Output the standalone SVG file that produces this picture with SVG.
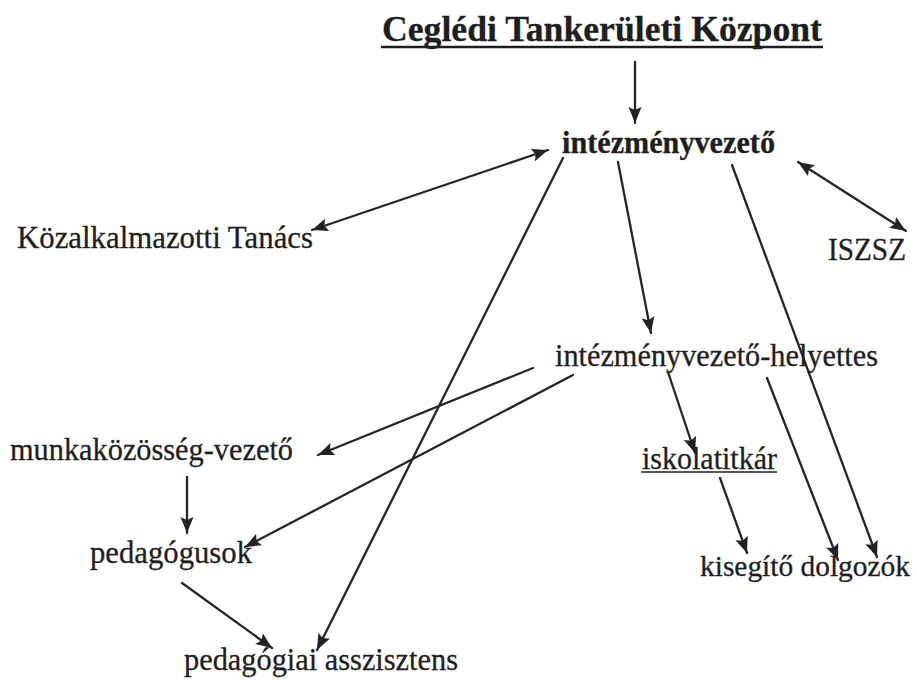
<svg xmlns="http://www.w3.org/2000/svg" width="917" height="680" viewBox="0 0 917 680">
<defs>
<marker id="ah" markerUnits="userSpaceOnUse" markerWidth="18" markerHeight="14" refX="16" refY="7" orient="auto-start-reverse">
<path d="M0,0.5 L16,7 L0,13.5 L3,7 z" fill="#222"/>
</marker>
<style>
.t{font-family:"Liberation Serif","Times New Roman",serif;font-size:31px;fill:#1e1e1e;stroke:#1e1e1e;stroke-width:0.3}
.b{font-weight:bold}
.c{stroke:#252525;stroke-width:2.3;fill:none;stroke-linecap:round}
</style>
</defs>
<rect width="917" height="680" fill="#ffffff"/>
<g id="connectors">
<line class="c" x1="635" y1="62" x2="635" y2="123" marker-end="url(#ah)"/>
<line class="c" x1="548" y1="150" x2="312" y2="230" marker-start="url(#ah)" marker-end="url(#ah)"/>
<line class="c" x1="798" y1="162" x2="906" y2="231" marker-start="url(#ah)" marker-end="url(#ah)"/>
<line class="c" x1="618" y1="162" x2="651" y2="333" marker-end="url(#ah)"/>
<line class="c" x1="563" y1="158" x2="317" y2="650" marker-end="url(#ah)"/>
<line class="c" x1="732" y1="165" x2="877" y2="557" marker-end="url(#ah)"/>
<line class="c" x1="533" y1="368" x2="318" y2="455" marker-end="url(#ah)"/>
<line class="c" x1="573" y1="375" x2="245" y2="547" marker-end="url(#ah)"/>
<line class="c" x1="668" y1="372" x2="695" y2="453" marker-end="url(#ah)"/>
<line class="c" x1="767" y1="378" x2="838" y2="560" marker-end="url(#ah)"/>
<line class="c" x1="720" y1="478" x2="747" y2="553" marker-end="url(#ah)"/>
<line class="c" x1="187" y1="477" x2="187" y2="533" marker-end="url(#ah)"/>
<line class="c" x1="182" y1="583" x2="272" y2="648" marker-end="url(#ah)"/>
</g>
<g id="title">
<text class="t b" x="382" y="41" style="font-size:35px" textLength="440" lengthAdjust="spacingAndGlyphs">Ceglédi Tankerületi Központ</text>
<line x1="381" y1="47" x2="823" y2="47" stroke="#1e1e1e" stroke-width="2.5"/>
</g>
<g id="intezmenyvezeto">
<text class="t b" x="562" y="153" textLength="213" lengthAdjust="spacingAndGlyphs">intézményvezető</text>
</g>
<g id="kozalkalmazotti-tanacs">
<text class="t" x="17" y="248" textLength="296" lengthAdjust="spacingAndGlyphs">Közalkalmazotti Tanács</text>
</g>
<g id="iszsz">
<text class="t" x="828" y="260" textLength="78" lengthAdjust="spacingAndGlyphs">ISZSZ</text>
</g>
<g id="helyettes">
<text class="t" x="555" y="366" textLength="323" lengthAdjust="spacingAndGlyphs">intézményvezető-helyettes</text>
</g>
<g id="munkakozosseg-vezeto">
<text class="t" x="10" y="460" textLength="283" lengthAdjust="spacingAndGlyphs">munkaközösség-vezető</text>
</g>
<g id="iskolatitkar">
<text class="t" x="642" y="469" textLength="135" lengthAdjust="spacingAndGlyphs">iskolatitkár</text>
<line x1="641" y1="472" x2="777" y2="472" stroke="#1e1e1e" stroke-width="1.5"/>
</g>
<g id="pedagogusok">
<text class="t" x="90" y="563" textLength="162" lengthAdjust="spacingAndGlyphs">pedagógusok</text>
</g>
<g id="kisegito-dolgozok">
<text class="t" x="700" y="576" style="font-size:29px" textLength="210" lengthAdjust="spacingAndGlyphs">kisegítő dolgozók</text>
</g>
<g id="pedagogiai-asszisztens">
<text class="t" x="184" y="670" textLength="274" lengthAdjust="spacingAndGlyphs">pedagógiai asszisztens</text>
</g>
</svg>
